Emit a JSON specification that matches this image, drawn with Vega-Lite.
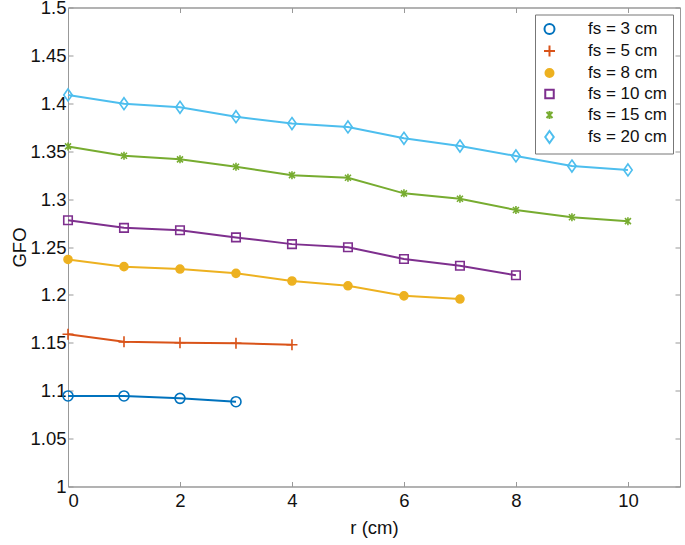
{
  "$schema": "https://vega.github.io/schema/vega-lite/v6.json",
  "autosize": "none",
  "width": 612,
  "height": 479,
  "padding": {"left": 68, "top": 7.5, "right": 5, "bottom": 58.5},
  "background": "white",
  "config": {
    "view": {"stroke": "#999999", "strokeWidth": 1},
    "font": "Liberation Sans",
    "axis": {
      "grid": false,
      "domainColor": "#999999",
      "tickColor": "#999999",
      "tickSize": -5,
      "labelColor": "#111111",
      "titleColor": "#111111",
      "labelFont": "Liberation Sans",
      "titleFont": "Liberation Sans",
      "labelFontSize": 18.5,
      "titleFontSize": 18.5,
      "titleFontWeight": "normal"
    },
    "legend": {
      "orient": "top-right",
      "offset": 7,
      "padding": 6,
      "strokeColor": "#777777",
      "fillColor": "white",
      "labelFont": "Liberation Sans",
      "labelFontSize": 17,
      "labelColor": "#111111",
      "symbolSize": 100,
      "symbolStrokeWidth": 2,
      "symbolOffset": 0,
      "labelOffset": 30,
      "rowPadding": 3
    }
  },
  "data": {
    "values": [
      {"r": 0, "gfo": 1.0945, "fs": "fs = 3 cm"},
      {"r": 1, "gfo": 1.0945, "fs": "fs = 3 cm"},
      {"r": 2, "gfo": 1.092, "fs": "fs = 3 cm"},
      {"r": 3, "gfo": 1.0885, "fs": "fs = 3 cm"},
      {"r": 0, "gfo": 1.159, "fs": "fs = 5 cm"},
      {"r": 1, "gfo": 1.151, "fs": "fs = 5 cm"},
      {"r": 2, "gfo": 1.150, "fs": "fs = 5 cm"},
      {"r": 3, "gfo": 1.1495, "fs": "fs = 5 cm"},
      {"r": 4, "gfo": 1.148, "fs": "fs = 5 cm"},
      {"r": 0, "gfo": 1.237, "fs": "fs = 8 cm"},
      {"r": 1, "gfo": 1.2295, "fs": "fs = 8 cm"},
      {"r": 2, "gfo": 1.227, "fs": "fs = 8 cm"},
      {"r": 3, "gfo": 1.2225, "fs": "fs = 8 cm"},
      {"r": 4, "gfo": 1.2145, "fs": "fs = 8 cm"},
      {"r": 5, "gfo": 1.2095, "fs": "fs = 8 cm"},
      {"r": 6, "gfo": 1.199, "fs": "fs = 8 cm"},
      {"r": 7, "gfo": 1.1957, "fs": "fs = 8 cm"},
      {"r": 0, "gfo": 1.278, "fs": "fs = 10 cm"},
      {"r": 1, "gfo": 1.270, "fs": "fs = 10 cm"},
      {"r": 2, "gfo": 1.2675, "fs": "fs = 10 cm"},
      {"r": 3, "gfo": 1.260, "fs": "fs = 10 cm"},
      {"r": 4, "gfo": 1.253, "fs": "fs = 10 cm"},
      {"r": 5, "gfo": 1.2497, "fs": "fs = 10 cm"},
      {"r": 6, "gfo": 1.2375, "fs": "fs = 10 cm"},
      {"r": 7, "gfo": 1.2305, "fs": "fs = 10 cm"},
      {"r": 8, "gfo": 1.2205, "fs": "fs = 10 cm"},
      {"r": 0, "gfo": 1.355, "fs": "fs = 15 cm"},
      {"r": 1, "gfo": 1.3453, "fs": "fs = 15 cm"},
      {"r": 2, "gfo": 1.3415, "fs": "fs = 15 cm"},
      {"r": 3, "gfo": 1.3338, "fs": "fs = 15 cm"},
      {"r": 4, "gfo": 1.325, "fs": "fs = 15 cm"},
      {"r": 5, "gfo": 1.3223, "fs": "fs = 15 cm"},
      {"r": 6, "gfo": 1.306, "fs": "fs = 15 cm"},
      {"r": 7, "gfo": 1.3004, "fs": "fs = 15 cm"},
      {"r": 8, "gfo": 1.2886, "fs": "fs = 15 cm"},
      {"r": 9, "gfo": 1.281, "fs": "fs = 15 cm"},
      {"r": 10, "gfo": 1.277, "fs": "fs = 15 cm"},
      {"r": 0, "gfo": 1.4087, "fs": "fs = 20 cm"},
      {"r": 1, "gfo": 1.3996, "fs": "fs = 20 cm"},
      {"r": 2, "gfo": 1.3958, "fs": "fs = 20 cm"},
      {"r": 3, "gfo": 1.386, "fs": "fs = 20 cm"},
      {"r": 4, "gfo": 1.3789, "fs": "fs = 20 cm"},
      {"r": 5, "gfo": 1.3753, "fs": "fs = 20 cm"},
      {"r": 6, "gfo": 1.3635, "fs": "fs = 20 cm"},
      {"r": 7, "gfo": 1.3554, "fs": "fs = 20 cm"},
      {"r": 8, "gfo": 1.345, "fs": "fs = 20 cm"},
      {"r": 9, "gfo": 1.3345, "fs": "fs = 20 cm"},
      {"r": 10, "gfo": 1.3304, "fs": "fs = 20 cm"}
    ]
  },
  "layer": [
    {
      "mark": {"type": "line", "strokeWidth": 2},
      "encoding": {
        "x": {"field": "r", "type": "quantitative", "scale": {"domain": [0, 10.93], "nice": false, "zero": false},
              "axis": {"orient": "bottom", "title": "r (cm)", "values": [0, 2, 4, 6, 8, 10], "labelPadding": 10, "titlePadding": 8}},
        "y": {"field": "gfo", "type": "quantitative", "scale": {"domain": [1, 1.5], "nice": false, "zero": false},
              "axis": {"orient": "left", "title": "GFO", "format": "~g", "values": [1, 1.05, 1.1, 1.15, 1.2, 1.25, 1.3, 1.35, 1.4, 1.45, 1.5], "labelPadding": 7, "titlePadding": 0}},
        "stroke": {"field": "fs", "type": "nominal",
                   "scale": {"domain": ["fs = 3 cm", "fs = 5 cm", "fs = 8 cm", "fs = 10 cm", "fs = 15 cm", "fs = 20 cm"],
                             "range": ["#0072BD", "#D95319", "#EDB120", "#7E2F8E", "#77AC30", "#4DBEEE"]},
                   "legend": {"title": null, "encode": {"symbols": {"update": {"shape": {"signal": "datum.value=='fs = 3 cm'?'M-1,0L7.6,0M2.3,0A1,1 0 1,1 4.3,0A1,1 0 1,1 2.3,0Z':datum.value=='fs = 5 cm'?'M-1,0L7.6,0M3.3,-1.1L3.3,1.1':datum.value=='fs = 8 cm'?'M-1,0L7.6,0M2.5,0A0.8,0.8 0 1,1 4.1,0A0.8,0.8 0 1,1 2.5,0Z':datum.value=='fs = 10 cm'?'M-1,0L7.6,0M2.45,-0.85L4.15,-0.85L4.15,0.85L2.45,0.85Z':datum.value=='fs = 15 cm'?'M-1,0L7.6,0M3.3,-0.8L3.3,0.8M2.7,-0.6L3.9,0.6M2.7,0.6L3.9,-0.6':'M-1,0L7.6,0M3.3,-1.2L4.15,0L3.3,1.2L2.45,0Z'"}}}}}}
      }
    },
    {
      "mark": {"type": "point", "size": 100, "strokeWidth": 1.6, "opacity": 1},
      "encoding": {
        "x": {"field": "r", "type": "quantitative",
              "axis": {"orient": "top", "labels": false, "title": null, "values": [0, 2, 4, 6, 8, 10]}},
        "y": {"field": "gfo", "type": "quantitative",
              "axis": {"orient": "right", "labels": false, "title": null, "values": [1, 1.05, 1.1, 1.15, 1.2, 1.25, 1.3, 1.35, 1.4, 1.45, 1.5]}},
        "stroke": {"field": "fs", "type": "nominal",
                   "legend": {"title": null, "encode": {"symbols": {"update": {"shape": {"signal": "datum.value=='fs = 3 cm'?'M-1,0L7.6,0M2.3,0A1,1 0 1,1 4.3,0A1,1 0 1,1 2.3,0Z':datum.value=='fs = 5 cm'?'M-1,0L7.6,0M3.3,-1.1L3.3,1.1':datum.value=='fs = 8 cm'?'M-1,0L7.6,0M2.5,0A0.8,0.8 0 1,1 4.1,0A0.8,0.8 0 1,1 2.5,0Z':datum.value=='fs = 10 cm'?'M-1,0L7.6,0M2.45,-0.85L4.15,-0.85L4.15,0.85L2.45,0.85Z':datum.value=='fs = 15 cm'?'M-1,0L7.6,0M3.3,-0.8L3.3,0.8M2.7,-0.6L3.9,0.6M2.7,0.6L3.9,-0.6':'M-1,0L7.6,0M3.3,-1.2L4.15,0L3.3,1.2L2.45,0Z'"}}}}}},
        "fill": {"field": "fs", "type": "nominal",
                 "scale": {"domain": ["fs = 3 cm", "fs = 5 cm", "fs = 8 cm", "fs = 10 cm", "fs = 15 cm", "fs = 20 cm"],
                           "range": ["transparent", "transparent", "#EDB120", "transparent", "transparent", "transparent"]},
                 "legend": {"title": null, "encode": {"symbols": {"update": {"shape": {"signal": "datum.value=='fs = 3 cm'?'M-1,0L7.6,0M2.3,0A1,1 0 1,1 4.3,0A1,1 0 1,1 2.3,0Z':datum.value=='fs = 5 cm'?'M-1,0L7.6,0M3.3,-1.1L3.3,1.1':datum.value=='fs = 8 cm'?'M-1,0L7.6,0M2.5,0A0.8,0.8 0 1,1 4.1,0A0.8,0.8 0 1,1 2.5,0Z':datum.value=='fs = 10 cm'?'M-1,0L7.6,0M2.45,-0.85L4.15,-0.85L4.15,0.85L2.45,0.85Z':datum.value=='fs = 15 cm'?'M-1,0L7.6,0M3.3,-0.8L3.3,0.8M2.7,-0.6L3.9,0.6M2.7,0.6L3.9,-0.6':'M-1,0L7.6,0M3.3,-1.2L4.15,0L3.3,1.2L2.45,0Z'"}}}}}},
        "shape": {"field": "fs", "type": "nominal",
                  "scale": {"domain": ["fs = 3 cm", "fs = 5 cm", "fs = 8 cm", "fs = 10 cm", "fs = 15 cm", "fs = 20 cm"],
                            "range": [
                              "M-1,0A1,1 0 1,1 1,0A1,1 0 1,1 -1,0Z",
                              "M-1.1,0L1.1,0M0,-1.1L0,1.1",
                              "M-0.8,0A0.8,0.8 0 1,1 0.8,0A0.8,0.8 0 1,1 -0.8,0Z",
                              "M-0.85,-0.85L0.85,-0.85L0.85,0.85L-0.85,0.85Z",
                              "M0,-0.8L0,0.8M-0.6,-0.6L0.6,0.6M-0.6,0.6L0.6,-0.6",
                              "M0,-1.2L0.85,0L0,1.2L-0.85,0Z"
                            ]},
                  "legend": null}
      }
    }
  ],
  "resolve": {"axis": {"x": "independent", "y": "independent"}}
}
